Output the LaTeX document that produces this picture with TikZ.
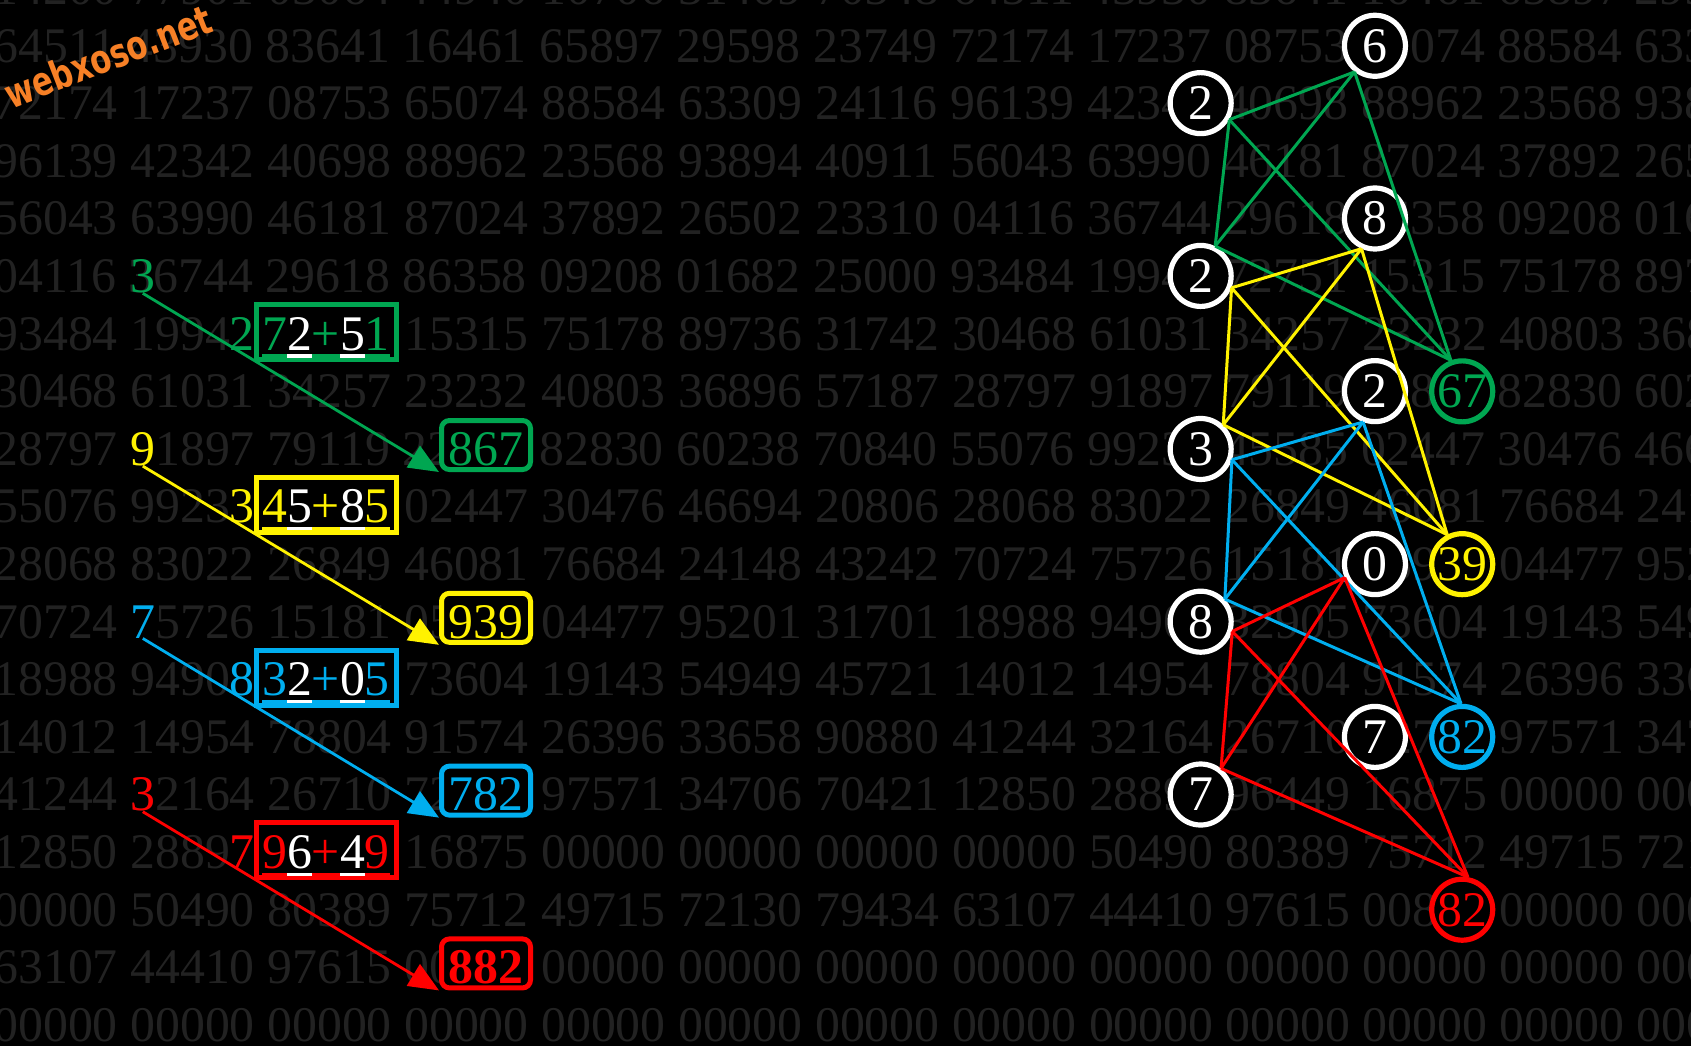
\documentclass[tikz,border=0pt]{standalone}
\usepackage{fontspec}
\setmainfont{Liberation Serif}
\newfontfamily\markfont{DejaVu Sans}
\usetikzlibrary{arrows.meta}

\definecolor{bgdigit}{gray}{0.135}
\definecolor{kqgreen}{RGB}{0,166,81}
\definecolor{kqyellow}{RGB}{255,242,0}
\definecolor{kqblue}{RGB}{0,174,239}
\definecolor{kqred}{RGB}{255,0,0}
\definecolor{markorange}{RGB}{247,128,38}

\newcommand\digfont{\fontsize{24.9pt}{30pt}\selectfont}
\newsavebox\chbox
\newcommand\uch[2]{\sbox\chbox{\color{#1}#2}\rlap{\color{#1}\rule[-3.8pt]{\wd\chbox}{1.7pt}}\usebox\chbox}

\tikzset{
  bgrow/.style={anchor=base west, inner sep=0pt, text=bgdigit, font=\digfont},
  dig/.style={anchor=base west, inner sep=0pt, font=\digfont, text=#1},
  ball/.style={circle, draw=#1, fill=black, line width=2.6pt, minimum size=30.5pt,
    inner sep=0pt, anchor=base, font=\digfont, text=#1},
  sumbox/.style={draw=#1, fill=black, line width=2.5pt, anchor=base, minimum width=70pt,
    inner xsep=0pt, inner ysep=1pt, text height=21.75pt, text depth=3.75pt, font=\digfont},
  resbox/.style={draw=#1, fill=black, line width=2.5pt, rounded corners=4pt, anchor=base,
    minimum width=44.5pt, inner xsep=0pt, inner ysep=1pt, text height=21.35pt,
    text depth=1.15pt, font=\digfont, text=#1},
  link/.style={draw=#1, line width=1.5pt},
  jump/.style={draw=#1, line width=1.4pt, -{Triangle[length=15pt,width=12.5pt]}},
  wmark/.style={inner sep=0pt, rotate=21, text=markorange,
    font=\markfont\bfseries\fontsize{20pt}{22pt}\selectfont}
}

\begin{document}
\begin{tikzpicture}[x=0.5pt,y=-0.5pt]
\useasboundingbox (0,0) rectangle (1691,1046);
\fill[black] (0,0) rectangle (1691,1046);
\clip (0,0) rectangle (1691,1046);

% ket qua cac ky
\node[bgrow] (row0) at (-7,4.4) {14200 77901 03064 44940 10706 31409 70548 64511 43930 83641 16461 65897 29598};
\node[bgrow] (row1) at (-7,62) {64511 43930 83641 16461 65897 29598 23749 72174 17237 08753 65074 88584 63309};
\node[bgrow] (row2) at (-7,119.6) {72174 17237 08753 65074 88584 63309 24116 96139 42342 40698 88962 23568 93894};
\node[bgrow] (row3) at (-7,177.2) {96139 42342 40698 88962 23568 93894 40911 56043 63990 46181 87024 37892 26502};
\node[bgrow] (row4) at (-7,234.8) {56043 63990 46181 87024 37892 26502 23310 04116 36744 29618 86358 09208 01682};
\node[bgrow] (row5) at (-7,292.4) {04116 36744 29618 86358 09208 01682 25000 93484 19942 72751 15315 75178 89736};
\node[bgrow] (row6) at (-7,350) {93484 19942 72751 15315 75178 89736 31742 30468 61031 34257 23232 40803 36896};
\node[bgrow] (row7) at (-7,407.6) {30468 61031 34257 23232 40803 36896 57187 28797 91897 79119 22867 82830 60238};
\node[bgrow] (row8) at (-7,465.2) {28797 91897 79119 22867 82830 60238 70840 55076 99233 45585 02447 30476 46694};
\node[bgrow] (row9) at (-7,522.8) {55076 99233 45585 02447 30476 46694 20806 28068 83022 26849 46081 76684 24148};
\node[bgrow] (row10) at (-7,580.4) {28068 83022 26849 46081 76684 24148 43242 70724 75726 15181 05939 04477 95201};
\node[bgrow] (row11) at (-7,638) {70724 75726 15181 05939 04477 95201 31701 18988 94908 32905 73604 19143 54949};
\node[bgrow] (row12) at (-7,695.6) {18988 94908 32905 73604 19143 54949 45721 14012 14954 78804 91574 26396 33658};
\node[bgrow] (row13) at (-7,753.2) {14012 14954 78804 91574 26396 33658 90880 41244 32164 26710 72782 97571 34706};
\node[bgrow] (row14) at (-7,810.8) {41244 32164 26710 72782 97571 34706 70421 12850 28897 96449 16875 00000 00000};
\node[bgrow] (row15) at (-7,868.4) {12850 28897 96449 16875 00000 00000 00000 00000 50490 80389 75712 49715 72130};
\node[bgrow] (row16) at (-7,926) {00000 50490 80389 75712 49715 72130 79434 63107 44410 97615 00882 00000 00000};
\node[bgrow] (row17) at (-7,983.6) {63107 44410 97615 00882 00000 00000 00000 00000 00000 00000 00000 00000 00000};
\node[bgrow] (row18) at (-7,1041.2) {00000 00000 00000 00000 00000 00000 00000 00000 00000 00000 00000 00000 00000};

\node[wmark] (wm) at (108,56) {\scalebox{0.76}[1]{webxoso.net}};

% cau 867
\node[dig=kqgreen] (g3) at (129.95,292.4) {3};
\node[dig=kqgreen] (g2) at (229.55,350) {2};
\node[sumbox=kqgreen] (gsum) at (326,350) {\uch{kqgreen}{7}\uch{white}{2}\uch{kqgreen}{+}\uch{white}{5}\uch{kqgreen}{1}};
\node[resbox=kqgreen] (g867) at (486,465.2) {867};

% cau 939
\node[dig=kqyellow] (y9) at (129.95,465.2) {9};
\node[dig=kqyellow] (y3) at (229.55,522.8) {3};
\node[sumbox=kqyellow] (ysum) at (326,522.8) {\uch{kqyellow}{4}\uch{white}{5}\uch{kqyellow}{+}\uch{white}{8}\uch{kqyellow}{5}};
\node[resbox=kqyellow] (y939) at (486,638) {939};

% cau 782
\node[dig=kqblue] (b7) at (129.95,638) {7};
\node[dig=kqblue] (b8) at (229.55,695.6) {8};
\node[sumbox=kqblue] (bsum) at (326,695.6) {\uch{kqblue}{3}\uch{white}{2}\uch{kqblue}{+}\uch{white}{0}\uch{kqblue}{5}};
\node[resbox=kqblue] (b782) at (486,810.8) {782};

% cau 882
\node[dig=kqred] (r3) at (129.95,810.8) {3};
\node[dig=kqred] (r7) at (229.55,868.4) {7};
\node[sumbox=kqred] (rsum) at (326,868.4) {\uch{kqred}{9}\uch{white}{6}\uch{kqred}{+}\uch{white}{4}\uch{kqred}{9}};
\node[resbox=kqred, font=\digfont\bfseries] (r882) at (486,983.6) {882};

\draw[jump=kqgreen] (g3.south) -- (g867.south west);
\draw[jump=kqyellow] (y9.south) -- (y939.south west);
\draw[jump=kqblue] (b7.south) -- (b782.south west);
\draw[jump=kqred] (r3.south) -- (r882.south west);

% vong tron
\node[ball=white] (n6) at (1374.95,62) {6};
\node[ball=white] (n2a) at (1200.65,119.6) {2};
\node[ball=white] (n8a) at (1374.95,234.8) {8};
\node[ball=white] (n2b) at (1200.65,292.4) {2};
\node[ball=white] (n2c) at (1374.95,407.6) {2};
\node[ball=kqgreen] (n67) at (1462.2,407.6) {67};
\node[ball=white] (n3) at (1200.65,465.2) {3};
\node[ball=white] (n0) at (1374.95,580.4) {0};
\node[ball=kqyellow] (n39) at (1462.2,580.4) {39};
\node[ball=white] (n8b) at (1200.65,638) {8};
\node[ball=white] (n7a) at (1374.95,753.2) {7};
\node[ball=kqblue] (n82b) at (1462.2,753.2) {82};
\node[ball=white] (n7b) at (1200.65,810.8) {7};
\node[ball=kqred] (n82r) at (1462.2,926) {82};

% 67
\draw[link=kqgreen] (n2a.-30) -- (n6.232);
\draw[link=kqgreen] (n2a.-30) -- (n2b.64);
\draw[link=kqgreen] (n2a.-30) -- (n67.110);
\draw[link=kqgreen] (n6.232) -- (n2b.64);
\draw[link=kqgreen] (n6.232) -- (n67.110);
\draw[link=kqgreen] (n2b.64) -- (n67.110);
% 39
\draw[link=kqyellow] (n2b.-21) -- (n8a.246);
\draw[link=kqyellow] (n2b.-21) -- (n3.47);
\draw[link=kqyellow] (n2b.-21) -- (n39.117);
\draw[link=kqyellow] (n8a.246) -- (n3.47);
\draw[link=kqyellow] (n8a.246) -- (n39.117);
\draw[link=kqyellow] (n3.47) -- (n39.117);
% 82
\draw[link=kqblue] (n3.-19) -- (n2c.249);
\draw[link=kqblue] (n3.-19) -- (n8b.43);
\draw[link=kqblue] (n3.-19) -- (n82b.92);
\draw[link=kqblue] (n2c.249) -- (n8b.43);
\draw[link=kqblue] (n2c.249) -- (n82b.92);
\draw[link=kqblue] (n8b.43) -- (n82b.92);
% 82
\draw[link=kqred] (n8b.-17) -- (n0.204);
\draw[link=kqred] (n8b.-17) -- (n7b.52);
\draw[link=kqred] (n8b.-17) -- (n82r.80);
\draw[link=kqred] (n0.204) -- (n7b.52);
\draw[link=kqred] (n0.204) -- (n82r.80);
\draw[link=kqred] (n7b.52) -- (n82r.80);
\end{tikzpicture}
\end{document}
